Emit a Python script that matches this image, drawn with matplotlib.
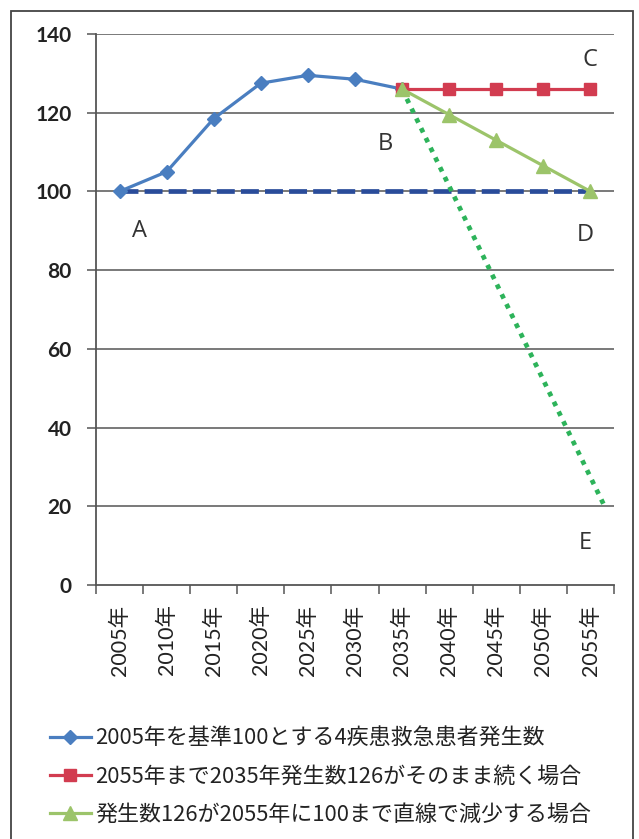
import matplotlib
matplotlib.use("Agg")
import matplotlib.pyplot as plt
from matplotlib.patches import Rectangle

plt.rcParams['font.family'] = ['Lato', 'Noto Sans CJK JP', 'DejaVu Sans']

# categories and series
years = ['2005年', '2010年', '2015年', '2020年', '2025年', '2030年',
         '2035年', '2040年', '2045年', '2050年', '2055年']
actual = [100, 105, 118.5, 127.5, 129.5, 128.5, 126]
constant = [126, 126, 126, 126, 126]
linear_down = [126, 119.5, 113, 106.5, 100]
baseline_x = [0, 10]
baseline_y = [100, 100]
drop_x = [6, 10.3]
drop_y = [126, 20]

labels = ['2005年を基準100とする4疾患救急患者発生数',
          '2055年まで2035年発生数126がそのまま続く場合',
          '発生数126が2055年に100まで直線で減少する場合']
point_labels = [('A', 0.43, 90), ('B', 5.64, 112), ('C', 9.98, 133.5),
                ('D', 9.9, 89), ('E', 9.9, 10.7)]

W, H = 639, 839
fig = plt.figure(figsize=(W / 100, H / 100), dpi=100)
ax = fig.add_axes([96 / W, 1 - 585 / H, 518 / W, 551 / H])

grid_c = '#555555'
ax.set_ylim(0, 140)
ax.set_xlim(-0.5, 10.5)
ax.set_yticks(range(0, 141, 20))
for v in range(20, 141, 20):
    ax.axhline(v, color=grid_c, lw=1.1, zorder=1)

# reference lines
ax.plot(baseline_x, baseline_y, color='#2A4C9A', lw=3.4,
        linestyle=(0, (3.8, 1.3)), dash_capstyle='butt', zorder=3)
ax.plot(drop_x, drop_y, color='#2DB35A', lw=3.4,
        linestyle=(0, (1, 1.3)), dash_capstyle='butt', zorder=3)

# series
l1, = ax.plot(range(0, 7), actual, color='#4A7EC0', lw=2.3,
              marker='D', ms=7, zorder=4)
l2, = ax.plot(range(6, 11), constant, color='#D23C50', lw=2.3,
              marker='s', ms=8.5, zorder=4)
l3, = ax.plot(range(6, 11), linear_down, color='#9CC46A', lw=2.3,
              marker='^', ms=9.5, zorder=5)

for txt, x, y in point_labels:
    ax.text(x, y, txt, fontsize=17, color='#333333', ha='center', va='center',
            family=['Open Sans', 'DejaVu Sans'])

# axes styling
for s in ['top', 'right']:
    ax.spines[s].set_visible(False)
for s in ['left', 'bottom']:
    ax.spines[s].set_color(grid_c)
    ax.spines[s].set_linewidth(1.3)
ax.tick_params(axis='y', length=6.5, width=1.1, color=grid_c, pad=11,
               labelsize=15, labelcolor='#222222')
ax.set_xticks(range(11))
ax.set_xticklabels(years, rotation=90)
ax.tick_params(axis='x', which='major', length=0, pad=14, labelsize=15.5,
               labelcolor='#222222')
ax.set_xticks([i - 0.5 for i in range(12)], minor=True)
ax.tick_params(axis='x', which='minor', length=6.5, width=1.1, color=grid_c)
for lab in ax.get_yticklabels():
    lab.set_fontweight('bold')

leg = fig.legend([l1, l2, l3], labels, loc='upper left',
                 bbox_to_anchor=(50 / W, 1 - 728 / H), frameon=False,
                 numpoints=1, handlelength=1.85, handletextpad=0.2,
                 labelspacing=0.72, borderaxespad=0, borderpad=0,
                 prop={'family': ['Noto Sans CJK JP', 'DejaVu Sans'], 'size': 15.8})
for t in leg.get_texts():
    t.set_color('#222222')

fig.patches.append(Rectangle((10.5 / W, -0.01), 622 / W, 1.01 - 10.5 / H,
                             transform=fig.transFigure, fill=False,
                             ec='#444444', lw=1.3))

fig.savefig('out.png', dpi=100)
